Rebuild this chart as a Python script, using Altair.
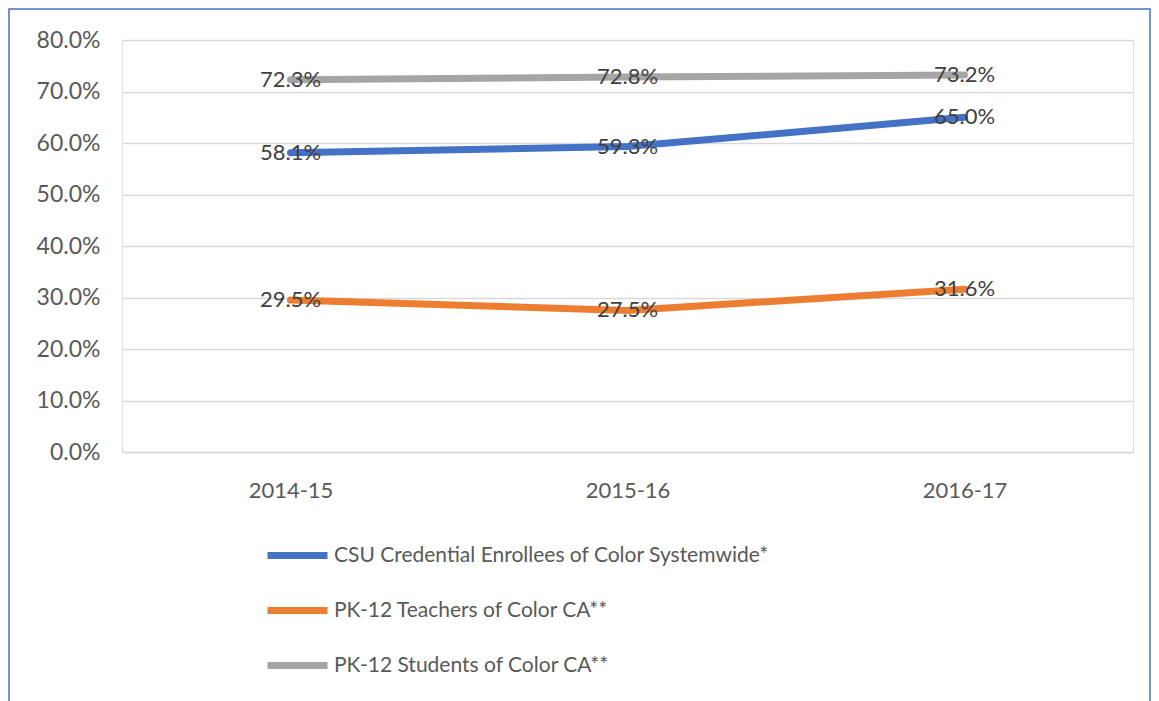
import altair as alt
import pandas as pd

years = ["2014-15", "2015-16", "2016-17"]
series_names = [
    "CSU Credential Enrollees of Color Systemwide*",
    "PK-12 Teachers of Color CA**",
    "PK-12 Students of Color CA**",
]
csu_values = [0.581, 0.593, 0.650]
teacher_values = [0.295, 0.275, 0.316]
student_values = [0.723, 0.728, 0.732]
colors = ["#4472C4", "#ED7D31", "#A5A5A5"]

rows = []
for name, vals in zip(series_names, [csu_values, teacher_values, student_values]):
    for y, v in zip(years, vals):
        rows.append({"year": y, "series": name, "value": v})
df = pd.DataFrame(rows)

FONT = "Lato"
W, H = 1011, 412

x_enc = alt.X("year:N", sort=years, title=None,
              scale=alt.Scale(paddingInner=0, paddingOuter=0.5),
              axis=alt.Axis(labelAngle=0, labelFontSize=22, labelColor="#595959",
                            labelFont=FONT, ticks=False, domainColor="#D9D9D9",
                            domainWidth=1.5, labelPadding=28, grid=False))
y_enc = alt.Y("value:Q", title=None,
              scale=alt.Scale(domain=[0, 0.8], nice=False),
              axis=alt.Axis(format=".1%", values=[0, .1, .2, .3, .4, .5, .6, .7, .8],
                            labelFontSize=23, labelColor="#595959", labelFont=FONT,
                            ticks=False, domain=False, gridColor="#D9D9D9",
                            gridWidth=1.5, labelPadding=22))

color_enc = alt.Color("series:N", title=None,
                      scale=alt.Scale(domain=series_names, range=colors),
                      legend=alt.Legend(orient="none", legendX=142, legendY=482,
                                        direction="vertical", symbolType="stroke",
                                        symbolSize=3600, symbolStrokeWidth=7,
                                        labelFontSize=21, labelColor="#595959",
                                        labelFont=FONT, rowPadding=7,
                                        labelOffset=3, labelLimit=600))

lines = alt.Chart(df).mark_line(strokeWidth=7, strokeCap="round").encode(
    x=x_enc, y=y_enc, color=color_enc, detail="series:N")

labels = alt.Chart(df).mark_text(fontSize=22, font=FONT, color="#404040",
                                 align="center", baseline="middle").encode(
    x=alt.X("year:N", sort=years), y="value:Q",
    text=alt.Text("value:Q", format=".1%"))

frame = alt.Chart(pd.DataFrame({"a": [0]})).mark_rect(
    fill=None, stroke="#4472C4", strokeWidth=1.5).encode(
    x=alt.value(-113), x2=alt.value(W + 17), y=alt.value(-31), y2=alt.value(H + 260))

chart = alt.layer(frame, lines, labels).properties(
    width=W, height=H,
    autosize=alt.AutoSizeParams(type="none"),
    padding={"left": 114, "top": 32, "right": 18, "bottom": 249},
).configure_view(stroke=None).configure(background="white")

chart.save("out.html", embed_options={"renderer": "svg", "actions": False})
